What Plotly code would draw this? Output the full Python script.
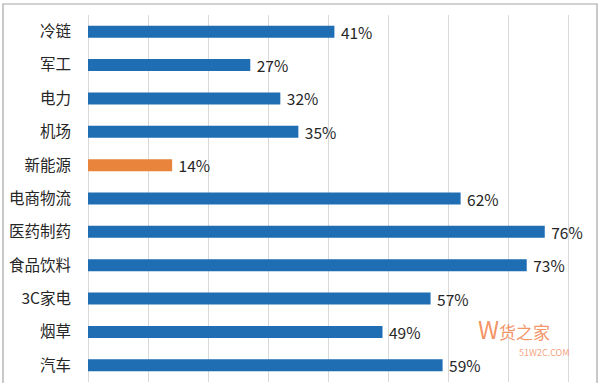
import plotly.graph_objects as go

categories = ["冷链", "军工", "电力", "机场", "新能源", "电商物流", "医药制药", "食品饮料", "3C家电", "烟草", "汽车"]
values = [41, 27, 32, 35, 14, 62, 76, 73, 57, 49, 59]
highlight = "新能源"

BLUE = "#1f6eb4"
ORANGE = "#e8843c"
colors = [ORANGE if c == highlight else BLUE for c in categories]
labels = [f" {v}%" for v in values]

W, H = 600, 383
ml, mr, mt, mb = 88, 3, 15, 1
pw = W - ml - mr
ph = H - mt - mb
px_per_unit = 6.01
xmax = pw / px_per_unit

fig = go.Figure(go.Bar(
    y=categories, x=values, orientation="h",
    marker=dict(color=colors, line=dict(width=0)),
    width=0.36,
    text=labels, textposition="outside", constraintext="none",
    textfont=dict(size=15.5, color="#262626", family="Noto Sans CJK SC"),
    cliponaxis=False,
))

fig.update_layout(
    width=W, height=H,
    margin=dict(l=ml, r=mr, t=mt, b=mb),
    paper_bgcolor="white", plot_bgcolor="white",
    showlegend=False,
    font=dict(family="Noto Sans CJK SC", color="#262626"),
    xaxis=dict(range=[0, xmax], dtick=10, tick0=0, showgrid=True,
               gridcolor="#d9d9d9", gridwidth=1, showticklabels=False,
               zeroline=True, zerolinecolor="#d9d9d9", zerolinewidth=1,
               showline=False, fixedrange=True),
    yaxis=dict(autorange="reversed", showgrid=False, showline=False,
               ticks="", tickfont=dict(size=15.5, color="#262626"),
               ticklabelstandoff=16, fixedrange=True),
    bargap=0.64,
)

# outer border
x0 = (3 - ml) / pw
x1 = (597 - ml) / pw
y1 = 1 + (mt - 4) / ph
y0 = -(H - (H - mb)) / ph - 0.01
fig.add_shape(type="rect", xref="paper", yref="paper", x0=x0, x1=x1, y0=y0, y1=y1,
              line=dict(color="#a6a6a6", width=1.2), fillcolor="rgba(0,0,0,0)", layer="above")

# watermark
def py(y):
    return 1 - (y - mt) / ph

def pxx(x):
    return (x - ml) / pw

fig.add_annotation(xref="paper", yref="paper", x=pxx(477), y=py(328),
                   xanchor="left", yanchor="middle", borderpad=0,
                   text="<span style='font-size:24px'>W</span>货之家", showarrow=False,
                   font=dict(size=17, color="rgba(240,120,60,0.8)"))
fig.add_annotation(xref="paper", yref="paper", x=pxx(544), y=py(352),
                   xanchor="center", yanchor="middle", borderpad=0,
                   text="51W2C.COM", showarrow=False, font=dict(size=9, color="rgba(240,130,80,0.75)"))

fig.write_html("out.html", config={"displayModeBar": False},
               post_script="document.body.style.margin='0';document.body.style.overflow='hidden';")
